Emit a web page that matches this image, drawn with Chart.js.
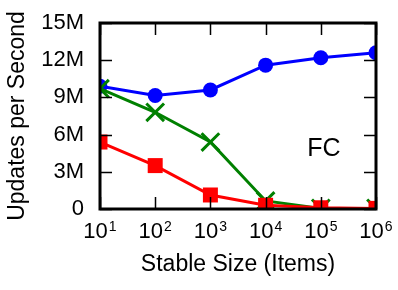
<!DOCTYPE html>
<html>
<head>
<meta charset="utf-8">
<script src="https://cdn.jsdelivr.net/npm/chart.js@4"></script>
<style>
  html, body { margin: 0; padding: 0; background: #fff; }
  #chart { display: block; }
</style>
</head>
<body>
<canvas id="chart" width="398" height="290"></canvas>
<script>
// Data (updates per second, in millions)
const stableSizes = [10, 100, 1000, 10000, 100000, 1000000];
const blueSeries = [9.9, 9.15, 9.6, 11.6, 12.2, 12.6];
const greenSeries = [9.7, 7.8, 5.4, 0.65, 0.05, 0.05];
const redSeries = [5.4, 3.5, 1.13, 0.3, 0.1, 0.05];

const yTicks = [0, 3, 6, 9, 12, 15];
const yTickLabels = ['0', '3M', '6M', '9M', '12M', '15M'];
const xTicks = [10, 100, 1000, 10000, 100000, 1000000];
const xTickExponents = ['1', '2', '3', '4', '5', '6'];

const xTitle = 'Stable Size (Items)';
const yTitle = 'Updates per Second';
const panelLabel = 'FC';

const FONT = '"Liberation Sans", Arial, Helvetica, sans-serif';

// draws the gnuplot-style frame, inward ticks and all the text
const frameAndLabels = {
    id: 'frameAndLabels',
    afterDatasetsDraw(chart) {
        const { ctx, chartArea: a, scales } = chart;
        const xs = scales.x, ys = scales.y;
        const tick = 12;
        ctx.save();
        ctx.strokeStyle = '#000';
        ctx.lineWidth = 1.5;

        // y ticks, left and mirrored right
        yTicks.forEach(v => {
            const y = Math.round(ys.getPixelForValue(v)) + 0.5;
            ctx.beginPath();
            ctx.moveTo(a.left, y); ctx.lineTo(a.left + tick, y);
            ctx.moveTo(a.right, y); ctx.lineTo(a.right - tick, y);
            ctx.stroke();
        });
        // x ticks, bottom and mirrored top
        xTicks.forEach(v => {
            const x = Math.round(xs.getPixelForValue(v)) + 0.5;
            ctx.beginPath();
            ctx.moveTo(x, a.bottom); ctx.lineTo(x, a.bottom - tick);
            ctx.moveTo(x, a.top); ctx.lineTo(x, a.top + tick);
            ctx.stroke();
        });

        // frame
        ctx.lineWidth = 3;
        ctx.strokeRect(a.left, a.top, a.right - a.left, a.bottom - a.top);

        ctx.fillStyle = '#000';
        // y tick labels
        ctx.font = '22px ' + FONT;
        ctx.textAlign = 'right';
        ctx.textBaseline = 'middle';
        yTicks.forEach((v, i) => {
            ctx.fillText(yTickLabels[i], a.left - 16, ys.getPixelForValue(v));
        });

        // x tick labels: "10" with superscript exponent
        ctx.textBaseline = 'alphabetic';
        ctx.textAlign = 'left';
        xTicks.forEach((v, i) => {
            ctx.font = '22px ' + FONT;
            const baseW = ctx.measureText('10').width;
            ctx.font = '14px ' + FONT;
            const expW = ctx.measureText(xTickExponents[i]).width;
            const x0 = xs.getPixelForValue(v) - (baseW + expW + 1) / 2;
            ctx.font = '22px ' + FONT;
            ctx.fillText('10', x0, 238);
            ctx.font = '14px ' + FONT;
            ctx.fillText(xTickExponents[i], x0 + baseW + 1, 231);
        });

        // axis titles
        ctx.font = '23px ' + FONT;
        ctx.textAlign = 'center';
        ctx.textBaseline = 'middle';
        ctx.fillText(xTitle, (a.left + a.right) / 2, 265);
        ctx.save();
        ctx.translate(18, (a.top + a.bottom) / 2);
        ctx.rotate(-Math.PI / 2);
        ctx.fillText(yTitle, 0, 0);
        ctx.restore();

        // panel label
        ctx.font = '25px ' + FONT;
        ctx.fillText(panelLabel, 324, 149);
        ctx.restore();
    }
};

const ctx = document.getElementById('chart').getContext('2d');
new Chart(ctx, {
    type: 'line',
    data: {
        datasets: [
            {
                data: stableSizes.map((s, i) => ({ x: s, y: redSeries[i] })),
                borderColor: '#ff0000',
                backgroundColor: '#ff0000',
                borderWidth: 3,
                pointStyle: 'rect',
                pointRadius: 10.6,
                pointBorderWidth: 0
            },
            {
                data: stableSizes.map((s, i) => ({ x: s, y: greenSeries[i] })),
                borderColor: '#008000',
                backgroundColor: '#008000',
                borderWidth: 3,
                pointStyle: 'crossRot',
                pointRadius: 12.5,
                pointBorderWidth: 3
            },
            {
                data: stableSizes.map((s, i) => ({ x: s, y: blueSeries[i] })),
                borderColor: '#0000ff',
                backgroundColor: '#0000ff',
                borderWidth: 3,
                pointStyle: 'circle',
                pointRadius: 7.5,
                pointBorderWidth: 0
            }
        ]
    },
    options: {
        responsive: false,
        animation: false,
        layout: { padding: { left: 100, top: 23, right: 22, bottom: 81 } },
        plugins: { legend: { display: false }, tooltip: { enabled: false } },
        scales: {
            x: { type: 'logarithmic', min: 10, max: 1000000, display: false },
            y: { type: 'linear', min: 0, max: 15, display: false }
        }
    },
    plugins: [frameAndLabels]
});
</script>
</body>
</html>
